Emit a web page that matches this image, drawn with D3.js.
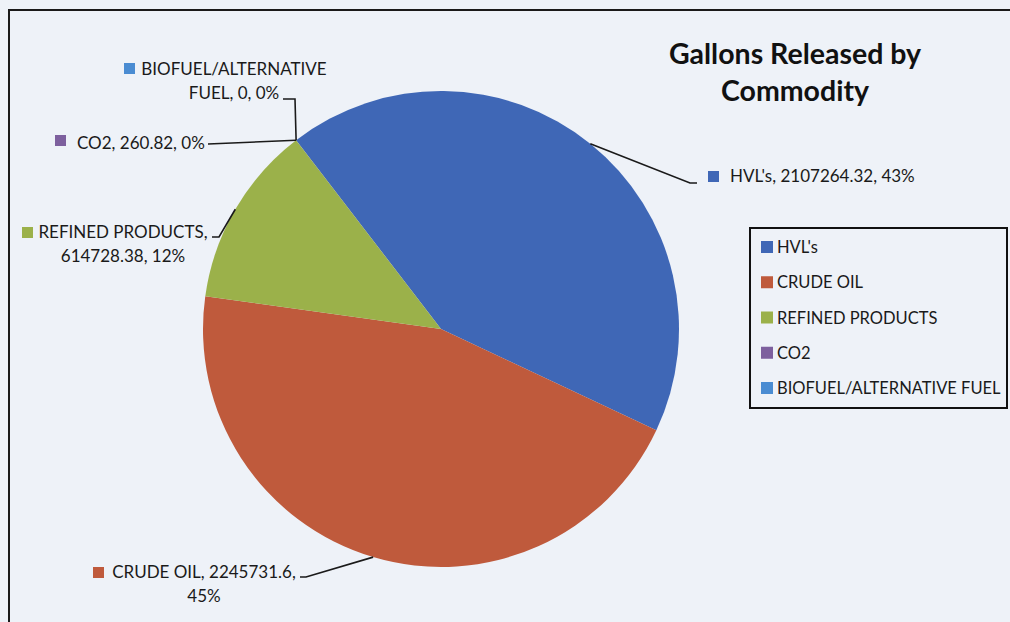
<!DOCTYPE html>
<html><head><meta charset="utf-8">
<script src="https://cdn.jsdelivr.net/npm/d3@7"></script>
<style>
body{margin:0;background:#eef2f8;}
svg{display:block;font-family:Lato,'Open Sans',sans-serif;}
</style>
</head><body><svg id="c" width="1010" height="622"></svg>
<script>
const categories = ["HVL's", "CRUDE OIL", "REFINED PRODUCTS", "CO2", "BIOFUEL/ALTERNATIVE FUEL"];
const values = [2107264.32, 2245731.6, 614728.38, 260.82, 0];
const percentLabels = ["43%", "45%", "12%", "0%", "0%"];
const colors = ["#3f67b6", "#bf5a3c", "#9bb14a", "#7d609e", "#4a8cd2"];
const titleLines = ["Gallons Released by", "Commodity"];

const svg = d3.select("#c");
const W = 1010, H = 622;
svg.append("rect").attr("width", W).attr("height", H).attr("fill", "#eef2f8");

// chart border (extends beyond right/bottom edges)
svg.append("path").attr("d", "M9,622 V10 H1010").attr("fill", "none").attr("stroke", "#1a1a1a").attr("stroke-width", 2);

const cx = 441, cy = 329, r = 238;
const start = -37.5 * Math.PI / 180;
const pie = d3.pie().sort(null).value(d => d.v).startAngle(start).endAngle(start + 2 * Math.PI);
const data = categories.map((c, i) => ({c, v: values[i], p: percentLabels[i], col: colors[i]}));
const arcs = pie(data);
const arc = d3.arc().innerRadius(0).outerRadius(r);
const edge = d3.arc().innerRadius(r).outerRadius(r);

const g = svg.append("g").attr("transform", `translate(${cx},${cy})`);
g.selectAll("path").data(arcs).join("path")
  .attr("d", arc).attr("fill", d => d.data.col);

// label layout (positions only)
const layout = [
  {lines: d => [`${d.c}, ${d.v}, ${d.p}`], x: 730, anchor: "start", ys: [182], sq: [708, 171], leader: [[697, 183], [690, 183]]},
  {lines: d => [`${d.c}, ${d.v},`, d.p], x: 204, anchor: "middle", ys: [578, 602], sq: [93, 567], leader: [[300, 577], [306, 577]]},
  {lines: d => ["REFINED PRODUCTS,", `${d.v}, ${d.p}`], x: 123, anchor: "middle", ys: [238, 262], sq: [22, 227], leader: [[212, 237], [219, 237]]},
  {lines: d => [`${d.c}, ${d.v}, ${d.p}`], x: 77, anchor: "start", ys: [149], sq: [55, 135], leader: [[208, 144]]},
  {lines: d => ["BIOFUEL/ALTERNATIVE", `FUEL, ${d.v}, ${d.p}`], x: 234, anchor: "middle", ys: [75, 99], sq: [124, 63], leader: [[283, 99], [295, 99]]}
];

const fs = 17;
arcs.forEach((a, i) => {
  const L = layout[i];
  const e = edge.centroid(a);
  const pts = L.leader.concat([[cx + e[0], cy + e[1]]]);
  svg.append("path").attr("d", d3.line()(pts)).attr("fill", "none").attr("stroke", "#1a1a1a").attr("stroke-width", 1.6);
  svg.append("rect").attr("x", L.sq[0]).attr("y", L.sq[1]).attr("width", 11).attr("height", 11).attr("fill", a.data.col);
  const t = svg.append("text").attr("font-size", fs).attr("fill", "#1a1a1a").attr("text-anchor", L.anchor);
  L.lines(a.data).forEach((s, j) => t.append("tspan").attr("x", L.x).attr("y", L.ys[j]).text(s));
});

// title
const tt = svg.append("text").attr("font-size", 28.5).attr("font-weight", "bold").attr("fill", "#111").attr("text-anchor", "middle");
titleLines.forEach((s, j) => tt.append("tspan").attr("x", 795).attr("y", 64 + j * 37).text(s));

// legend
const lg = svg.append("g");
lg.append("rect").attr("x", 750).attr("y", 228).attr("width", 257).attr("height", 180)
  .attr("fill", "none").attr("stroke", "#111").attr("stroke-width", 2);
const ly = d3.scalePoint().domain(categories).range([247, 388]);
categories.forEach((c, i) => {
  lg.append("rect").attr("x", 761).attr("y", ly(c) - 6).attr("width", 12).attr("height", 12).attr("fill", colors[i]);
  lg.append("text").attr("x", 777).attr("y", ly(c) + 6).attr("font-size", 16.5).attr("fill", "#1a1a1a").text(c);
});
</script></body></html>
